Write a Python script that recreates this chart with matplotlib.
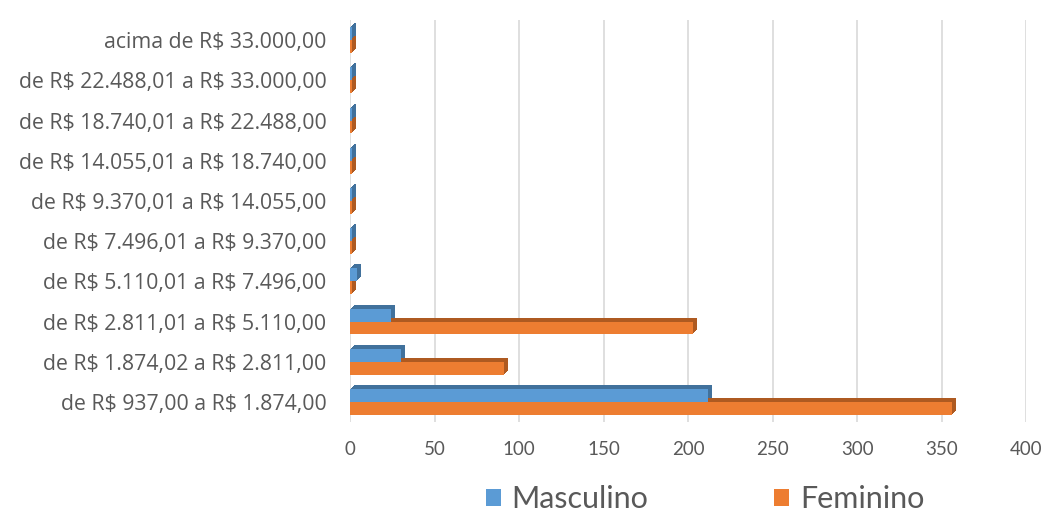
import numpy as np
import matplotlib
matplotlib.use("Agg")
import matplotlib.pyplot as plt
from matplotlib.transforms import ScaledTranslation

plt.rcParams['font.family'] = ['Lato', 'DejaVu Sans']
plt.rcParams['text.parse_math'] = False

faixas = [
    "de R$ 937,00 a R$ 1.874,00",
    "de R$ 1.874,02 a R$ 2.811,00",
    "de R$ 2.811,01 a R$ 5.110,00",
    "de R$ 5.110,01 a R$ 7.496,00",
    "de R$ 7.496,01 a R$ 9.370,00",
    "de R$ 9.370,01 a R$ 14.055,00",
    "de R$ 14.055,01 a R$ 18.740,00",
    "de R$ 18.740,01 a R$ 22.488,00",
    "de R$ 22.488,01 a R$ 33.000,00",
    "acima de R$ 33.000,00",
]
masculino = [212, 30, 24, 4, 1, 1, 1, 1, 1, 1]
feminino = [356, 91, 203, 1, 1, 1, 1, 1, 1, 1]
xticks = [0, 50, 100, 150, 200, 250, 300, 350, 400]

blue, blue_dark = '#5B9BD5', '#41719C'
orange, orange_dark = '#ED7D31', '#AE5A21'

fig = plt.figure(figsize=(10.46, 5.14), dpi=100)
ax = fig.add_axes([0.3346, 0.179, 0.981 - 0.3346, 0.782])

y = np.arange(len(faixas))
h = 0.32

# fake 3D depth: darker copies stacked behind the front faces
for k in range(1, 5):
    off = ax.transData + ScaledTranslation(k / 100, k / 100, fig.dpi_scale_trans)
    ax.barh(y + h / 2, masculino, height=h, color=blue_dark, transform=off, zorder=2)
    ax.barh(y - h / 2, feminino, height=h, color=orange_dark, transform=off, zorder=2)

ax.barh(y + h / 2, masculino, height=h, color=blue, zorder=3, label='Masculino')
ax.barh(y - h / 2, feminino, height=h, color=orange, zorder=3, label='Feminino')

ax.set_xlim(0, 400)
ax.set_ylim(-0.5, 9.5)
ax.set_xticks(xticks)
ax.set_yticks(y)
ax.set_yticklabels(faixas, family=['Open Sans', 'DejaVu Sans'])
ax.tick_params(axis='y', length=0, pad=17, labelsize=15.3, labelcolor='#595959')
ax.tick_params(axis='x', length=0, pad=14, labelsize=13.5, labelcolor='#595959')
ax.grid(axis='x', color='#D9D9D9', linewidth=1.2, zorder=0)
for s in ax.spines.values():
    s.set_visible(False)

leg = fig.legend(loc='lower center', bbox_to_anchor=(0.674, -0.052), ncol=2,
                 frameon=False, fontsize=22, handlelength=0.5, handleheight=0.5,
                 columnspacing=4.1, handletextpad=0.35, labelcolor='#595959')

fig.savefig('out.png', dpi=100)
